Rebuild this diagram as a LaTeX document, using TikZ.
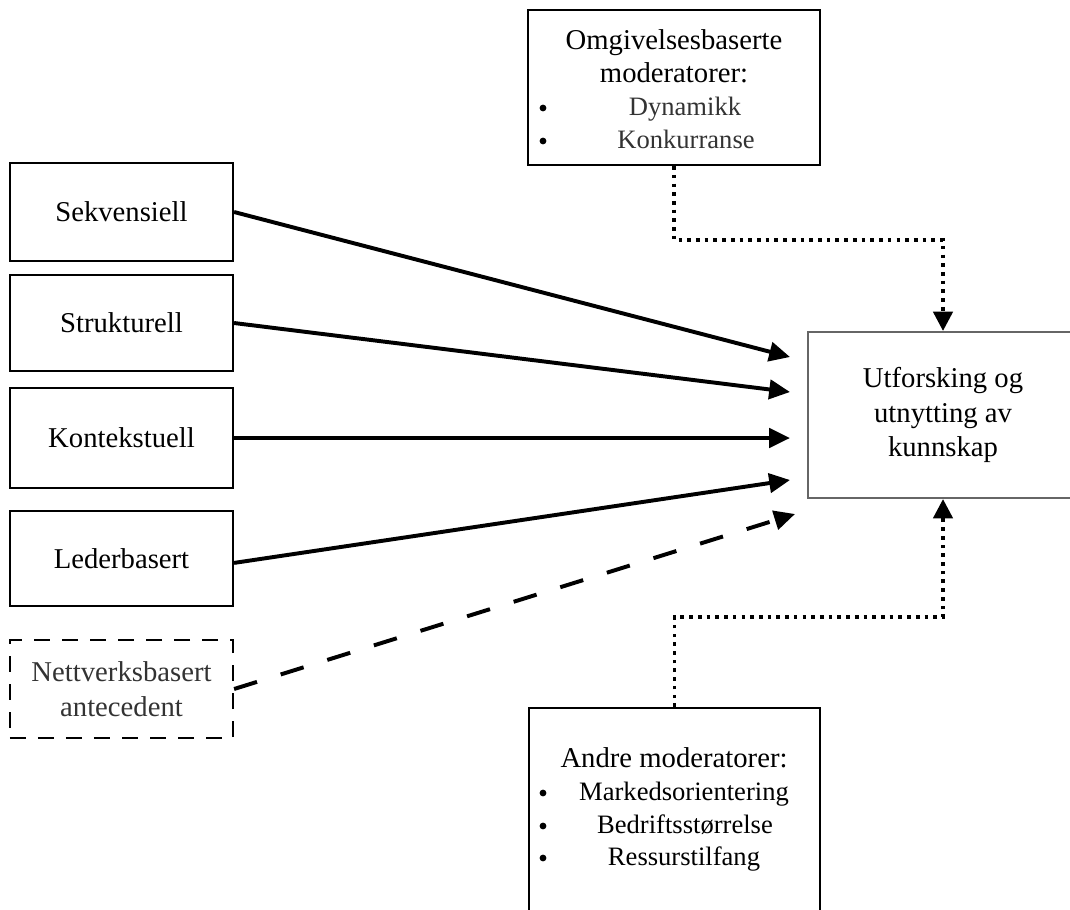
\documentclass[tikz,border=0pt]{standalone}
\usepackage{fontspec}
\setmainfont{Liberation Serif}
\usetikzlibrary{arrows.meta}

\tikzset{
    every node/.style={font=\fontsize{20.4}{24.5}\selectfont},
    box/.style={draw=black, line width=1.5pt, inner sep=0pt, minimum width=5.575cm},
    dashbox/.style={box, dash pattern=on 0.4cm off 0.3cm},
    item/.style={anchor=base, inner sep=0pt},
    listitem/.style={item, font=\fontsize{18.9}{22}\selectfont},
    bulletdot/.style={circle, fill=black, inner sep=0pt, minimum size=0.17cm},
    flow/.style={line width=2.8pt, -{Triangle[length=0.52cm,width=0.48cm]}},
    weakflow/.style={flow, dash pattern=on 0.6cm off 0.62cm},
    modflow/.style={line width=2.6pt, dash pattern=on 2.6pt off 3.6pt,
        -{Triangle[length=0.48cm,width=0.48cm]}}
}

\begin{document}
\begin{tikzpicture}[x=0.025cm, y=-0.025cm]
    \definecolor{utfBorder}{HTML}{666666}

    % Fix the page
    \useasboundingbox (0,0) rectangle (1070,909);
    \clip (0,0) rectangle (1070,909);

    % Draw antecedent boxes
    \node[box, minimum height=2.45cm]  (sek) at (121.5,212)   {Sekvensiell};
    \node[box, minimum height=2.4cm]   (str) at (121.5,323)   {Strukturell};
    \node[box, minimum height=2.5cm]   (kon) at (121.5,438)   {Kontekstuell};
    \node[box, minimum height=2.375cm] (led) at (121.5,558.5) {Lederbasert};
    \node[dashbox, minimum height=2.45cm, align=center, text=black!80] (net) at (121.5,689)
        {Nettverksbasert\\antecedent};

    % Draw outcome box
    \node[box, draw=utfBorder, minimum width=6.75cm, minimum height=4.15cm, align=center]
        (utf) at (943,415) {Utforsking og\\utnytting av\\kunnskap};

    % Draw environment moderator box
    \node[box, minimum width=7.3cm, minimum height=3.875cm] (omg) at (674,87.5) {};
    \node[item] (omgtitle) at (674,49) {Omgivelsesbaserte};
    \node[item] (omgsub)   at (674,82) {moderatorer:};
    \node[listitem, text=black!80] (dyn) at (685,115) {Dynamikk};
    \node[listitem, text=black!80] (konk) at (686,148) {Konkurranse};
    \foreach \y/\n in {108/dyn, 141/konk}
        \node[bulletdot] (b\n) at (543,\y) {};

    % Draw other moderator box
    \node[box, minimum width=7.275cm, minimum height=5.55cm] (andre) at (674.5,819) {};
    \node[item] (andretitle) at (674,767) {Andre moderatorer:};
    \node[listitem] (mark) at (684,800) {Markedsorientering};
    \node[listitem] (bedr) at (685,833) {Bedriftsstørrelse};
    \node[listitem] (ress) at (684,865) {Ressurstilfang};
    \foreach \y/\n in {793/mark, 826/bedr, 858/ress}
        \node[bulletdot] (b\n) at (543,\y) {};

    % Arrow ends
    \coordinate (in1) at (790,357);
    \coordinate (in2) at (790,392);
    \coordinate (in3) at (790,438);
    \coordinate (in4) at (790,480);
    \coordinate (in5) at (795,514);

    % Draw antecedent arrows
    \draw[flow] (sek.east) -- (in1);
    \draw[flow] (str.east) -- (in2);
    \draw[flow] (kon.east) -- (in3);
    \draw[flow] ([yshift=-0.11cm]led.east) -- (in4);
    \draw[weakflow] (net.east) -- (in5);

    % Draw moderator arrows
    \coordinate (topbend) at (943,240);
    \coordinate (botbend) at (943,617);
    \draw[modflow] (omg.south) |- (topbend) -- (utf.north);
    \draw[modflow] (andre.north) |- (botbend) -- (utf.south);

\end{tikzpicture}
\end{document}
